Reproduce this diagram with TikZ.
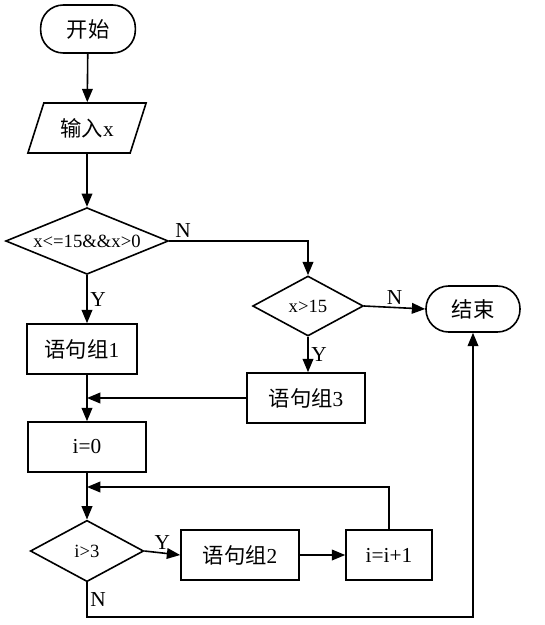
\documentclass[tikz,border=0pt]{standalone}
\usepackage{fontspec}
\setmainfont{Liberation Serif}
\newfontfamily\cjk{Noto Sans CJK SC}
\usetikzlibrary{arrows.meta,shapes.geometric}

\begin{document}
\begin{tikzpicture}[x=0.75pt, y=-0.75pt,
    >={Triangle[length=10pt, width=8pt]},
    % Styles
    term/.style={draw, rounded corners=17pt, line width=1.2pt, inner sep=0pt,
                 font=\fontsize{16}{19}\selectfont},
    iobox/.style={draw, trapezium, trapezium left angle=63.4, trapezium right angle=116.6,
                  trapezium stretches=true, line width=1.2pt, inner sep=0pt,
                  minimum width=89pt, minimum height=37.5pt, font=\fontsize{16}{19}\selectfont},
    stmt/.style={draw, rectangle, line width=1.2pt, inner sep=0pt,
                 minimum height=37.5pt, font=\fontsize{16}{19}\selectfont},
    cond/.style={draw, diamond, line width=1.2pt, inner sep=0pt,
                 font=\fontsize{14}{16}\selectfont},
    arrow/.style={->, line width=1.2pt},
    lbl/.style={font=\fontsize{16}{18}\selectfont, inner sep=2pt},
  ]

  \useasboundingbox (0,0) rectangle (545,625);

  % Start and input
  \node[term, minimum width=71pt, minimum height=36pt] (start) at (88, 29) {\cjk 开始};
  \node[iobox] (input) at (87, 128) {{\cjk 输入}x};

  % First test
  \node[cond, aspect=2.45, minimum width=122pt, minimum height=50pt] (test1) at (87, 241) {x<=15\&\&x>0};
  \node[stmt, minimum width=82.5pt] (group1) at (82, 349) {{\cjk 语句组}1};

  % Second test
  \node[cond, aspect=1.85, minimum width=83pt, minimum height=45pt] (test2) at (308, 306) {x>15};
  \node[term, minimum width=70.5pt, minimum height=34.5pt] (stop) at (473, 309) {\cjk 结束};
  \node[stmt, minimum width=88.5pt] (group3) at (306, 398) {{\cjk 语句组}3};

  % Loop
  \node[stmt, minimum width=88.5pt] (init) at (87, 447) {i=0};
  \node[cond, aspect=1.85, minimum width=85pt, minimum height=46pt] (test3) at (87, 551) {i>3};
  \node[stmt, minimum width=88.5pt] (group2) at (240, 555) {{\cjk 语句组}2};
  \node[stmt, minimum width=64.5pt] (incr) at (389, 555) {i=i+1};

  \coordinate (join1) at (87, 398);
  \coordinate (join2) at (87, 487);
  \coordinate (bottom) at (87, 617);

  % Arrows
  \draw[arrow] (start) -- (input);
  \draw[arrow] (input) -- (test1);
  \draw[arrow] (test1.east) -| (test2.north) node[pos=0.05, above, lbl] {N};
  \draw[arrow] (test1.south) -- (test1.south |- group1.north) node[midway, right, lbl] {Y};
  \draw[arrow] (test2.east) -- (stop.west) node[midway, above, lbl] {N};
  \draw[arrow] (test2.south) -- (test2.south |- group3.north) node[midway, right, lbl] {Y};
  \draw[arrow] (group3.west) -- (join1);
  \draw[arrow] (init.north |- group1.south) -- (init.north);
  \draw[arrow] (init) -- (test3);
  \draw[arrow] (incr.north) |- (join2);
  \draw[arrow] (test3.east) -- (group2.west) node[midway, above, lbl] {Y};
  \draw[arrow] (group2) -- (incr);
  \draw[arrow] (test3.south) -- (bottom) node[midway, right, lbl] {N} -| (stop.south);

\end{tikzpicture}
\end{document}
